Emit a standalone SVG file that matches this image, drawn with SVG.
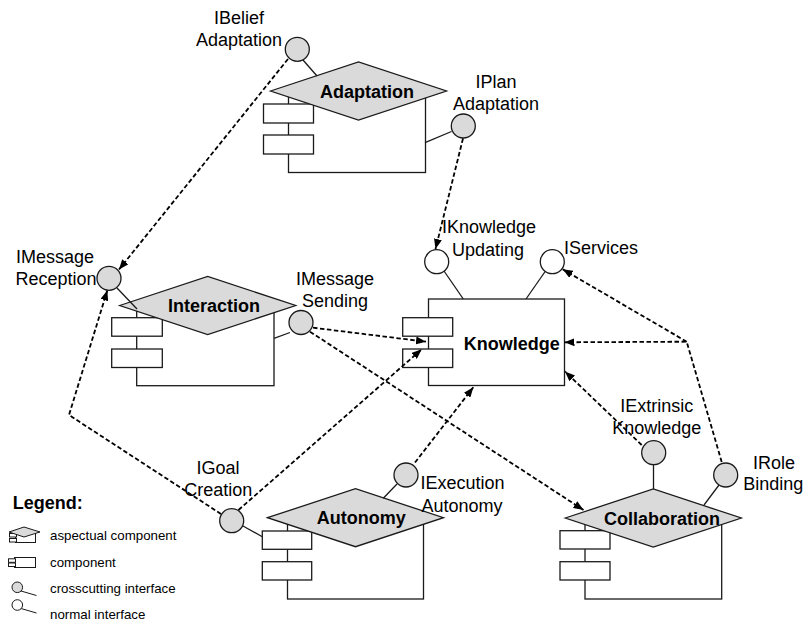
<svg xmlns="http://www.w3.org/2000/svg" width="804" height="624" viewBox="0 0 804 624">
<defs>
<style>
.t{font-family:"Liberation Sans",Arial,sans-serif;font-size:18px;fill:#000;text-anchor:middle}
.b{font-weight:bold}
.lg{font-family:"Liberation Sans",Arial,sans-serif;font-size:13.3px;fill:#000}
.s{fill:#fff;stroke:#1a1a1a;stroke-width:1.3}
.g{fill:#dadada;stroke:#1a1a1a;stroke-width:1.3}
.ln{fill:none;stroke:#1a1a1a;stroke-width:1.3}
.d{fill:none;stroke:#000;stroke-width:1.8;stroke-dasharray:4.5 2.5;marker-end:url(#ah)}
.dn{fill:none;stroke:#000;stroke-width:1.8;stroke-dasharray:4.5 2.5}
</style>
<marker id="ah" markerUnits="userSpaceOnUse" markerWidth="10" markerHeight="8" refX="10" refY="4" orient="auto">
<path d="M0,0 L10,4 L0,8 z" fill="#000"/>
</marker>
</defs>
<rect width="804" height="624" fill="#fff"/>

<g id="adaptation">
<rect class="s" x="288.5" y="91" width="137" height="81.5"/>
<rect class="s" x="263.5" y="104" width="50" height="19"/>
<rect class="s" x="263.5" y="135" width="50" height="19"/>
<polygon class="g" points="270.5,91 358.5,62 446.5,91 358.5,120"/>
<text class="t b" x="367" y="98">Adaptation</text>
</g>

<g id="interaction">
<rect class="s" x="136.7" y="305.5" width="137.3" height="80.2"/>
<rect class="s" x="111.7" y="317.7" width="50.6" height="18.5"/>
<rect class="s" x="111.7" y="349" width="50.6" height="18.5"/>
<polygon class="g" points="119.7,305.5 207.7,276.5 295.7,305.5 207.7,334.5"/>
<text class="t b" x="214" y="312">Interaction</text>
</g>

<g id="knowledge">
<rect class="s" x="428.5" y="299" width="136" height="86.5"/>
<rect class="s" x="402.7" y="317.7" width="50" height="18.5"/>
<rect class="s" x="402.7" y="349" width="50" height="18.5"/>
<text class="t b" x="511.7" y="350">Knowledge</text>
</g>

<g id="autonomy">
<rect class="s" x="287.5" y="517.7" width="136" height="81.3"/>
<rect class="s" x="262.3" y="531" width="49.4" height="18.3"/>
<rect class="s" x="262.3" y="561.7" width="49.4" height="18.3"/>
<polygon class="g" points="267.5,517.7 355.5,488.7 443.5,517.7 355.5,546.7"/>
<text class="t b" x="361.3" y="524">Autonomy</text>
</g>

<g id="collaboration">
<rect class="s" x="585" y="518" width="136.7" height="81"/>
<rect class="s" x="560" y="530.7" width="50" height="18.3"/>
<rect class="s" x="560" y="561.7" width="50" height="18.3"/>
<polygon class="g" points="565.3,518 653.3,489 741.3,518 653.3,547"/>
<text class="t b" x="662" y="525">Collaboration</text>
</g>

<g id="iBeliefAdaptation">
<line class="ln" x1="303" y1="60" x2="317" y2="76"/>
<circle class="g" cx="297.3" cy="49.3" r="12"/>
<text class="t" x="239" y="24">IBelief</text>
<text class="t" x="239" y="46">Adaptation</text>
</g>

<g id="iPlanAdaptation">
<line class="ln" x1="425" y1="142.7" x2="451.5" y2="131.5"/>
<circle class="g" cx="463.3" cy="126" r="12"/>
<text class="t" x="496" y="88">IPlan</text>
<text class="t" x="496" y="110">Adaptation</text>
</g>

<g id="iMessageReception">
<line class="ln" x1="117" y1="288" x2="137" y2="309"/>
<circle class="g" cx="109" cy="278.3" r="12"/>
<text class="t" x="55" y="263">IMessage</text>
<text class="t" x="56" y="285">Reception</text>
</g>

<g id="iMessageSending">
<line class="ln" x1="274" y1="338.3" x2="290" y2="332.5"/>
<circle class="g" cx="301" cy="322.5" r="12"/>
<text class="t" x="335" y="285">IMessage</text>
<text class="t" x="335" y="307">Sending</text>
</g>

<g id="iKnowledgeUpdating">
<line class="ln" x1="444" y1="271" x2="463.3" y2="299"/>
<circle class="s" cx="436.7" cy="261.7" r="12"/>
<text class="t" x="489" y="233">IKnowledge</text>
<text class="t" x="488" y="256">Updating</text>
</g>

<g id="iServices">
<line class="ln" x1="545.5" y1="271" x2="526" y2="299"/>
<circle class="s" cx="552.3" cy="261.7" r="12"/>
<text class="t" x="601" y="254">IServices</text>
</g>

<g id="iGoalCreation">
<line class="ln" x1="243" y1="526" x2="262.3" y2="536.7"/>
<circle class="g" cx="231.7" cy="520.7" r="12"/>
<text class="t" x="218" y="474">IGoal</text>
<text class="t" x="218.3" y="496">Creation</text>
</g>

<g id="iExecutionAutonomy">
<line class="ln" x1="397" y1="484" x2="383.3" y2="498.3"/>
<circle class="g" cx="406" cy="475" r="12"/>
<text class="t" x="462.5" y="488.5">IExecution</text>
<text class="t" x="462" y="511.5">Autonomy</text>
</g>

<g id="iExtrinsicKnowledge">
<line class="ln" x1="653.5" y1="465" x2="653.5" y2="489"/>
<circle class="g" cx="653.7" cy="452.7" r="12"/>
<text class="t" x="656.7" y="411.5">IExtrinsic</text>
<text class="t" x="656.7" y="433.5">Knowledge</text>
</g>

<g id="iRoleBinding">
<line class="ln" x1="719" y1="485" x2="704" y2="505"/>
<circle class="g" cx="725.7" cy="475" r="12"/>
<text class="t" x="774" y="469">IRole</text>
<text class="t" x="773.3" y="490">Binding</text>
</g>

<g id="connectors">
<line class="d" x1="288" y1="59" x2="119" y2="269.5"/>
<line class="d" x1="463" y1="138.5" x2="435.5" y2="249"/>
<line class="d" x1="313" y1="327.7" x2="426" y2="341.7"/>
<line class="d" x1="310" y1="331.7" x2="583.5" y2="510"/>
<line class="d" x1="238.5" y1="510" x2="421.7" y2="349.3"/>
<polyline class="d" points="221,514 69,415 107.3,290.5"/>
<line class="d" x1="415" y1="462.5" x2="473.3" y2="387.3"/>
<line class="d" x1="641.7" y1="445" x2="565" y2="371.5"/>
<polyline class="d" points="721.7,462 686.7,341.7 564.5,342.3"/>
<line class="d" x1="686.7" y1="341.7" x2="562.7" y2="269.3"/>
</g>

<g id="legend">
<text class="t b" x="12.7" y="509" style="text-anchor:start">Legend:</text>
<g id="legend-aspectual">
<rect x="15.5" y="531.5" width="20" height="11" fill="#fff" stroke="#1a1a1a" stroke-width="1"/>
<rect x="9.5" y="533.5" width="7" height="3.5" fill="#fff" stroke="#1a1a1a" stroke-width="1"/>
<rect x="9.5" y="538.5" width="7" height="3.5" fill="#fff" stroke="#1a1a1a" stroke-width="1"/>
<polygon points="9,532 24,527 40,532 24,537" fill="#dadada" stroke="#1a1a1a" stroke-width="1"/>
</g>
<text class="lg" x="50" y="540">aspectual component</text>
<g id="legend-component">
<rect x="14.5" y="557.5" width="21" height="10" fill="#fff" stroke="#1a1a1a" stroke-width="1"/>
<rect x="8.5" y="558.8" width="7" height="3.5" fill="#fff" stroke="#1a1a1a" stroke-width="1"/>
<rect x="8.5" y="563" width="7" height="3.5" fill="#fff" stroke="#1a1a1a" stroke-width="1"/>
</g>
<text class="lg" x="50" y="567">component</text>
<g id="legend-crosscutting">
<line x1="21" y1="591" x2="36.5" y2="595.5" stroke="#1a1a1a" stroke-width="1"/>
<circle cx="17.3" cy="587.3" r="5.3" fill="#dadada" stroke="#1a1a1a" stroke-width="1"/>
</g>
<text class="lg" x="50" y="593">crosscutting interface</text>
<g id="legend-normal">
<line x1="21" y1="608.5" x2="36.5" y2="613" stroke="#1a1a1a" stroke-width="1"/>
<circle cx="17.3" cy="605" r="5.3" fill="#fff" stroke="#1a1a1a" stroke-width="1"/>
</g>
<text class="lg" x="50" y="619">normal interface</text>
</g>
</svg>
